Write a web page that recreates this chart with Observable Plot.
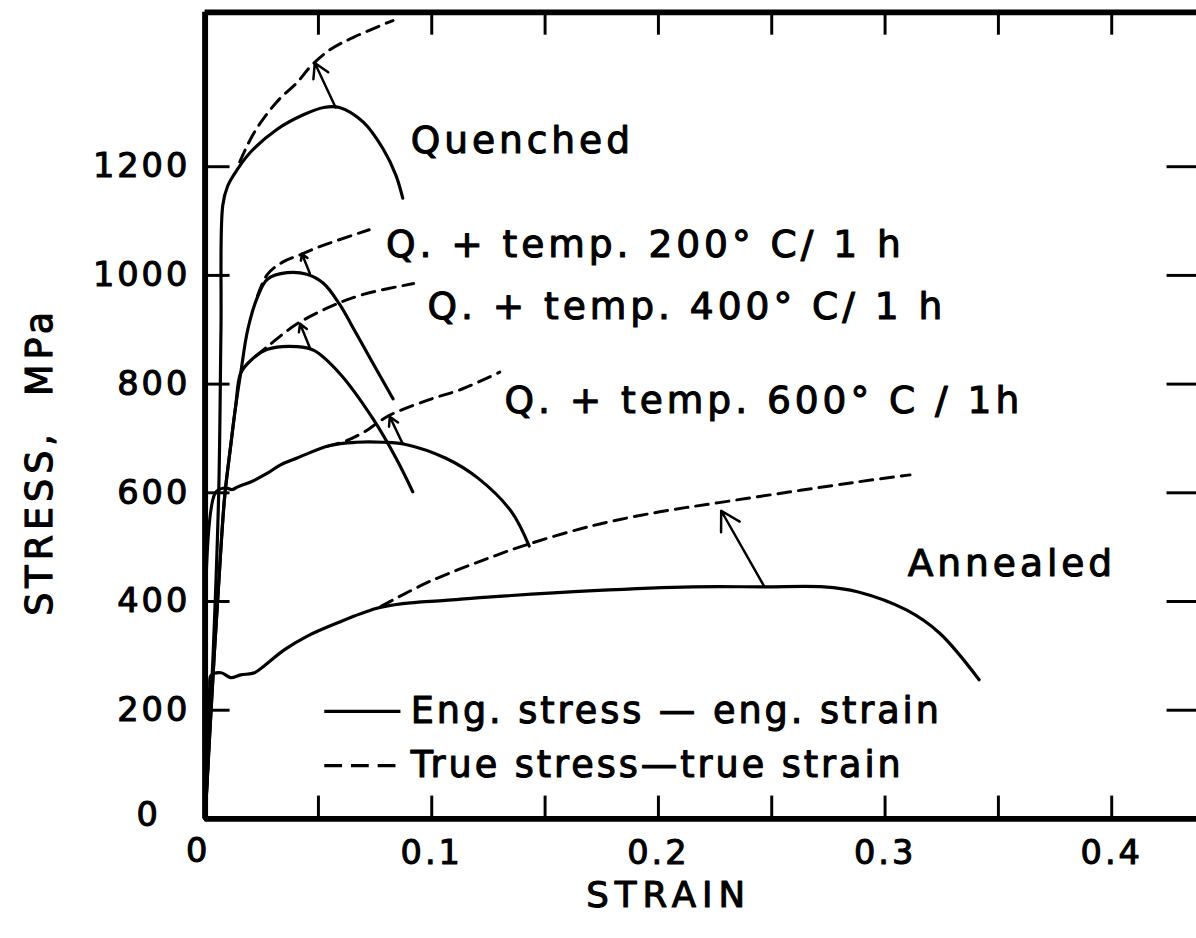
<!DOCTYPE html>
<html>
<head>
<meta charset="utf-8">
<script src="https://cdn.jsdelivr.net/npm/d3@7"></script>
<script src="https://cdn.jsdelivr.net/npm/@observablehq/plot@0.6"></script>
<style>
  html, body { margin: 0; padding: 0; background: #fff; overflow: hidden; }
  #chart { width: 1196px; height: 938px; overflow: hidden; }
</style>
</head>
<body>
<div id="chart"></div>
<script>
// ---- data: [strain, stress (MPa)] ----
const quenchedEng = [[0,0],[0.0035,300],[0.0060,600],[0.0070,900],[0.0078,1129],[0.0100,1165],[0.0144,1196],[0.0201,1227],[0.0318,1269],[0.0436,1296],[0.0523,1309],[0.0593,1309],[0.0698,1282],[0.0785,1233],[0.0842,1184],[0.0872,1142]];
const quenchedTrue = [[0.0153,1209],[0.0218,1264],[0.0318,1320],[0.0406,1355],[0.0471,1387],[0.0550,1415],[0.0654,1438],[0.0829,1469]];
const temp200Eng = [[0,0],[0.0040,300],[0.0070,500],[0.0087,596],[0.0113,687],[0.0135,760],[0.0157,820],[0.0188,900],[0.0231,960],[0.0275,993],[0.0362,1005],[0.0449,1002],[0.0523,985],[0.0593,947],[0.0667,893],[0.0741,838],[0.0829,773]];
const temp200True = [[0.0231,962],[0.0275,1002],[0.0340,1024],[0.0419,1038],[0.0493,1051],[0.0580,1064],[0.0724,1084]];
const temp400Eng = [[0,0],[0.0040,300],[0.0070,500],[0.0087,596],[0.0113,687],[0.0135,760],[0.0157,820],[0.0200,843],[0.0275,864],[0.0406,869],[0.0480,862],[0.0593,820],[0.0741,736],[0.0842,664],[0.0916,602]];
const temp400True = [[0.0222,851],[0.0275,869],[0.0340,891],[0.0406,911],[0.0550,942],[0.0698,965],[0.0920,985]];
const temp600Eng = [[0,0],[0.0045,600],[0.0087,609],[0.0120,606],[0.0144,611],[0.0201,620],[0.0275,636],[0.0331,651],[0.0406,664],[0.0550,687],[0.0667,693],[0.0785,693],[0.0885,689],[0.1060,664],[0.1204,627],[0.1352,565],[0.1430,502]];
const temp600True = [[0.0536,685],[0.0624,696],[0.0698,711],[0.0811,742],[0.0986,771],[0.1134,791],[0.1300,822]];
const annealedEng = [[0,0],[0.0020,240],[0.0026,264],[0.0070,269],[0.0113,260],[0.0157,265],[0.0218,269],[0.0262,282],[0.0349,311],[0.0449,336],[0.0580,360],[0.0754,387],[0.0872,396],[0.1060,402],[0.1278,409],[0.1714,420],[0.2150,427],[0.2468,427],[0.2730,427],[0.2878,418],[0.3096,384],[0.3240,342],[0.3415,256]];
const annealedTrue = [[0.0776,391],[0.0986,436],[0.1278,484],[0.1422,505],[0.1714,540],[0.2006,565],[0.2268,582],[0.2586,602],[0.2878,620],[0.3110,633]];

// arrows: engineering point -> true point
const arrowFrom = [[0.0576,1309],[0.0462,1004],[0.0462,867],[0.0872,690],[0.2468,427]];
const arrowTo   = [[0.0484,1391],[0.0427,1040],[0.0419,911],[0.0815,740],[0.2277,567]];

// curve labels
const curveLabels = ["Quenched","Q. + temp. 200° C/ 1 h","Q. + temp. 400° C/ 1 h","Q. + temp. 600° C / 1h","Annealed"];
const curveLabelAt = [[0.0907,1247],[0.0798,1056],[0.0981,942],[0.1321,769],[0.3100,469]];

// legend
const legendTexts = ["Eng. stress — eng. strain","True stress—true strain"];
const legendAt = [[0.0907,198],[0.0907,98]];
const legendLineX = [0.0528, 0.0864];

// ticks
const xTickLabels = [0.1, 0.2, 0.3, 0.4];
const xMinorTicks = [0.05,0.1,0.15,0.2,0.25,0.3,0.35,0.4];
const yTickLabels = [200,400,600,800,1000,1200];
const xMax = 0.4374, yMax = 1484;

const FONT = "DejaVu Sans";
const toObj = arr => arr.map(([x, y]) => ({x, y}));

const solid = [quenchedEng, temp200Eng, temp400Eng, temp600Eng, annealedEng];
const dashed = [quenchedTrue, temp200True, temp400True, temp600True, annealedTrue];

const lineMarks = [];
for (const s of solid) lineMarks.push(Plot.line(toObj(s), {x: "x", y: "y", curve: "catmull-rom", stroke: "black", strokeWidth: 3.2}));
for (const s of dashed) lineMarks.push(Plot.line(toObj(s), {x: "x", y: "y", curve: "catmull-rom", stroke: "black", strokeWidth: 3, strokeDasharray: "13,8"}));

const arrows = arrowFrom.map((f, i) => ({x1: f[0], y1: f[1], x2: arrowTo[i][0], y2: arrowTo[i][1]}));
const labels = curveLabels.map((t, i) => ({t, x: curveLabelAt[i][0], y: curveLabelAt[i][1]}));
const legend = legendTexts.map((t, i) => ({t, x: legendAt[i][0], y: legendAt[i][1], dash: i === 1}));

const textStyle = {fill: "black", stroke: "black", strokeWidth: 1.1, fontFamily: FONT};

const chart = Plot.plot({
  width: 1210, height: 938,
  marginLeft: 207, marginRight: 0, marginTop: 12, marginBottom: 110,
  x: {domain: [0, xMax], axis: null},
  y: {domain: [0, yMax], axis: null},
  style: {fontFamily: FONT, background: "white", overflow: "visible"},
  marks: [
    // inward ticks
    Plot.ruleX(xMinorTicks, {x: d => d, y1: 0, y2: 42, stroke: "black", strokeWidth: 3}),
    Plot.ruleX(xMinorTicks, {x: d => d, y1: yMax - 42, y2: yMax, stroke: "black", strokeWidth: 3}),
    Plot.ruleY(yTickLabels, {y: d => d, x1: 0, x2: 0.011, stroke: "black", strokeWidth: 3}),
    Plot.ruleY(yTickLabels, {y: d => d, x1: xMax - 0.013, x2: xMax, stroke: "black", strokeWidth: 3}),
    ...lineMarks,
    Plot.arrow(arrows, {x1: "x1", y1: "y1", x2: "x2", y2: "y2", stroke: "black", strokeWidth: 2.5, headLength: 13}),
    // frame
    Plot.ruleY([0], {stroke: "black", strokeWidth: 6}),
    Plot.ruleY([yMax], {stroke: "black", strokeWidth: 6}),
    Plot.ruleX([0], {stroke: "black", strokeWidth: 6}),
    // tick labels
    Plot.text(yTickLabels, {x: 0, y: d => d, text: d => String(d), textAnchor: "end", dx: -15, fontSize: 34, ...textStyle}),
    Plot.text([0], {x: 0, y: d => d, text: () => "0", textAnchor: "middle", dx: -57, dy: -4, fontSize: 34, ...textStyle}),
    Plot.text(xTickLabels, {x: d => d, y: 0, text: d => d.toFixed(1), dy: 35, fontSize: 34, ...textStyle}),
    Plot.text([0], {x: d => d, y: 0, text: () => "0", dx: -7, dy: 33, fontSize: 34, ...textStyle}),
    // axis titles
    Plot.text(["STRAIN"], {x: 0.2045, y: 0, text: d => d, dy: 78, fontSize: 36, ...textStyle}),
    Plot.text(["STRESS,  MPa"], {x: -0.0728, y: 658, text: d => d, rotate: -90, fontSize: 37, ...textStyle}),
    // curve labels
    Plot.text(labels, {x: "x", y: "y", text: "t", textAnchor: "start", fontSize: 38, ...textStyle}),
    // legend
    Plot.ruleY(legend.filter(d => !d.dash), {y: "y", x1: legendLineX[0], x2: legendLineX[1], stroke: "black", strokeWidth: 3.2}),
    Plot.ruleY(legend.filter(d => d.dash), {y: "y", x1: legendLineX[0], x2: legendLineX[1], stroke: "black", strokeWidth: 3.2, strokeDasharray: "18,9"}),
    Plot.text(legend, {x: "x", y: "y", text: "t", textAnchor: "start", fontSize: 37, ...textStyle})
  ]
});

d3.select(chart).selectAll("text").each(function() {
  const t = this.textContent;
  if (t === "STRAIN") this.style.letterSpacing = "6px";
  else if (t.startsWith("STRESS")) this.style.letterSpacing = "5px";
  else if (t.startsWith("Eng.") || t.startsWith("True")) this.style.letterSpacing = "3px";
  else if (curveLabels.includes(t)) this.style.letterSpacing = "4px";
  else this.style.letterSpacing = "3px";
});
document.getElementById("chart").appendChild(chart);
</script>
</body>
</html>
